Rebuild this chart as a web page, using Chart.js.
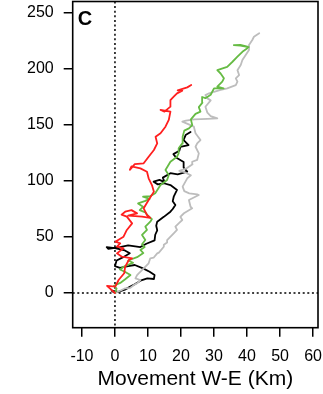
<!DOCTYPE html>
<html>
<head>
<meta charset="utf-8">
<script src="https://cdn.jsdelivr.net/npm/chart.js@4.4.1/dist/chart.umd.min.js"></script>
<style>
  html, body { margin: 0; padding: 0; background: #fff; }
  canvas { display: block; }
</style>
</head>
<body>
<canvas id="chart" width="323" height="394"></canvas>
<script>
// Axis tick values
const X_TICKS = [-10, 0, 10, 20, 30, 40, 50, 60];
const Y_TICKS = [0, 50, 100, 150, 200, 250];

// Cumulative movement tracks (km): W-E on x, S-N on y
const grayX = [0, 1.6, 3.1, 4.6, 5.7, 6.7, 7.7, 6.2, 6.7, 7.2, 8.2, 8.7, 10.2, 10.7, 11.7, 12.8, 13.3, 14.8, 14.8, 15.8, 15.8, 17.8, 18.8, 18.3, 19.3, 20.4, 19.8, 20.9, 23.4, 22.9, 22.4, 25.4, 24.9, 22.5, 21.0, 20.5, 21.9, 23.0, 21.0, 19.5, 21.5, 23.5, 23.4, 24.9, 25.4, 24.4, 24.9, 25.9, 24.4, 23.9, 22.0, 20.4, 21.5, 24.0, 28.0, 31.0, 29.0, 28.0, 27.4, 29.0, 28.0, 27.4, 28.5, 30.0, 32.0, 34.0, 36.6, 37.1, 36.6, 37.6, 37.1, 38.1, 38.6, 39.6, 40.6, 40.6, 41.6, 42.1, 43.7];
const grayY = [0, 2.0, 4.2, 4.5, 7.0, 8.7, 11.6, 13.1, 16.0, 17.6, 20.5, 22.0, 26.5, 31.0, 31.5, 35.4, 36.0, 41.3, 43.0, 45.0, 47.3, 53.3, 56.3, 59.2, 62.2, 65.2, 68.0, 71.2, 75.6, 77.0, 83.0, 87.5, 88.0, 89.0, 91.0, 95.0, 102.4, 105.0, 108.0, 109.0, 111.0, 115.0, 117.2, 118.8, 124.7, 130.6, 133.6, 136.6, 142.6, 148.5, 151.0, 153.0, 154.0, 155.0, 155.5, 156.0, 158.0, 161.0, 166.3, 172.0, 173.8, 176.8, 178.3, 179.7, 181.3, 182.8, 185.7, 188.7, 191.7, 194.6, 199.0, 203.6, 208.0, 212.5, 217.0, 221.4, 225.9, 228.8, 231.9];

const greenX = [0, 0.5, -0.3, 1.6, 3.0, 4.7, 3.0, 1.5, 3.0, 5.5, 4.0, 6.7, 8.6, 7.7, 9.0, 8.2, 9.2, 8.2, 9.7, 9.2, 10.7, 11.2, 10.0, 9.2, 7.5, 8.5, 7.0, 9.0, 10.5, 8.5, 10.7, 12.2, 13.8, 15.8, 16.3, 15.3, 16.8, 18.8, 19.3, 19.3, 20.4, 20.5, 21.0, 22.4, 23.4, 23.0, 24.4, 25.9, 25.4, 26.5, 26.4, 27.4, 29.0, 30.0, 32.9, 31.0, 32.5, 33.0, 32.0, 31.0, 34.0, 35.6, 37.1, 38.6, 40.1, 40.1, 38.0, 36.0, 38.0, 40.5];
const greenY = [0, 4.0, 6.5, 9.0, 12.0, 16.0, 19.0, 21.0, 24.0, 27.0, 29.0, 32.0, 35.7, 38.4, 41.0, 43.5, 47.3, 51.8, 56.3, 59.2, 63.7, 66.0, 69.0, 72.0, 74.0, 77.0, 80.0, 82.0, 84.0, 86.0, 86.5, 89.0, 96.4, 100.9, 105.4, 109.8, 117.2, 121.7, 124.7, 129.2, 133.6, 139.6, 145.0, 147.0, 150.0, 155.0, 160.0, 162.0, 166.0, 170.0, 175.0, 174.0, 177.0, 182.8, 182.8, 184.2, 188.7, 191.7, 196.0, 199.0, 202.0, 206.5, 211.0, 215.4, 218.5, 220.0, 221.5, 221.4, 221.0, 219.5];

const blackX = [0, -1.0, 1.0, 3.0, 5.5, 7.7, 9.8, 11.8, 12.0, 10.5, 8.5, 6.0, 4.0, 1.5, 0, 0.5, 2.5, 4.5, 3.0, 0, -2.5, -2.0, 1.5, 4.0, 7.7, 9.5, 12.0, 12.2, 12.8, 12.5, 12.8, 14.8, 16.8, 17.5, 18.3, 17.5, 17.8, 18.8, 16.8, 14.8, 13.0, 11.7, 13.5, 15.0, 14.5, 16.8, 19.0, 21.9, 20.8, 20.8, 18.5, 17.7, 19.5, 19.8, 22.3, 20.8, 21.4, 22.9];
const blackY = [0, 2.0, 1.0, 3.0, 7.0, 11.0, 13.0, 12.5, 16.0, 19.0, 22.0, 25.0, 24.0, 22.5, 24.0, 29.0, 32.0, 35.5, 38.0, 40.0, 41.0, 39.5, 41.0, 42.5, 41.0, 44.0, 47.0, 52.0, 56.0, 60.0, 63.7, 68.0, 72.6, 75.0, 78.6, 82.0, 86.0, 92.0, 96.4, 98.0, 97.0, 99.4, 101.0, 99.0, 103.0, 107.0, 106.0, 108.3, 112.0, 117.0, 121.0, 124.0, 127.0, 130.4, 132.1, 136.6, 141.0, 143.8];

const redX = [0, -2.4, 0.1, 1.1, 2.8, 3.1, 4.2, 5.2, 2.1, 0.6, 2.6, 0.6, 1.6, 0.1, 2.6, 3.6, 5.2, 3.6, 2.0, 3.1, 5.0, 6.7, 4.0, 8.2, 10.7, 9.7, 8.7, 10.2, 11.8, 11.2, 10.2, 9.7, 7.7, 5.0, 4.5, 6.0, 8.7, 10.2, 11.8, 12.8, 12.3, 13.8, 15.3, 16.3, 16.8, 13.8, 15.0, 16.8, 16.8, 17.8, 18.8, 20.4, 19.0, 21.9, 23.1];
const redY = [0, 6.3, 5.7, 11.6, 17.6, 23.5, 29.5, 31.0, 32.4, 35.4, 39.9, 41.4, 44.3, 45.8, 50.3, 56.3, 62.2, 68.2, 70.0, 72.6, 74.0, 71.1, 69.0, 68.2, 67.0, 69.6, 75.6, 83.0, 90.5, 96.4, 102.4, 108.3, 111.3, 113.0, 110.0, 115.0, 115.8, 121.7, 127.7, 133.6, 139.6, 142.6, 148.5, 154.5, 161.9, 163.4, 162.0, 166.4, 172.3, 175.3, 178.3, 180.7, 181.0, 183.6, 185.7];

const FONT = '"Liberation Sans", Arial, Helvetica, sans-serif';
const toPoints = (xs, ys) => xs.map((x, i) => ({ x: x, y: ys[i] }));

function track(label, xs, ys, color) {
  return {
    label: label,
    data: toPoints(xs, ys),
    showLine: true,
    borderColor: color,
    backgroundColor: color,
    borderWidth: 1.8,
    pointRadius: 0,
    tension: 0,
    borderJoinStyle: 'round',
    borderCapStyle: 'round'
  };
}

// Reference lines at x = 0 and y = 0, the panel letter and the box frame
const panelDecor = {
  id: 'panelDecor',
  beforeDatasetsDraw(chart) {
    const { ctx, chartArea: a, scales: { x, y } } = chart;
    const x0 = x.getPixelForValue(0);
    const y0 = y.getPixelForValue(0);
    ctx.save();
    ctx.strokeStyle = '#000';
    ctx.lineWidth = 1.5;
    ctx.setLineDash([2, 2.6]);
    ctx.beginPath();
    ctx.moveTo(x0, a.top);
    ctx.lineTo(x0, a.bottom);
    ctx.moveTo(a.left, y0);
    ctx.lineTo(a.right, y0);
    ctx.stroke();
    ctx.restore();
  },
  afterDatasetsDraw(chart) {
    const { ctx, chartArea: a } = chart;
    ctx.save();
    ctx.strokeStyle = '#000';
    ctx.lineWidth = 1.6;
    ctx.strokeRect(a.left, a.top, a.right - a.left, a.bottom - a.top);
    ctx.fillStyle = '#000';
    ctx.font = 'bold 20px ' + FONT;
    ctx.textAlign = 'left';
    ctx.textBaseline = 'alphabetic';
    ctx.fillText('C', a.left + 5, a.top + 23.5);
    ctx.restore();
  }
};

const gridStyle = {
  display: true,
  drawOnChartArea: false,
  drawTicks: true,
  tickLength: 9,
  color: '#000',
  lineWidth: 1.5
};

new Chart(document.getElementById('chart'), {
  type: 'scatter',
  data: {
    datasets: [
      track('Red', redX, redY, '#ff1f1f'),
      track('Green', greenX, greenY, '#66bb44'),
      track('Gray', grayX, grayY, '#bdbdbd'),
      track('Black', blackX, blackY, '#000000')
    ]
  },
  options: {
    responsive: false,
    animation: false,
    devicePixelRatio: 1,
    layout: { padding: { top: 1.5, right: 5, left: 0, bottom: 0 } },
    plugins: {
      legend: { display: false },
      tooltip: { enabled: false }
    },
    scales: {
      x: {
        type: 'linear',
        min: -12.8,
        max: 61.5,
        afterBuildTicks: s => { s.ticks = X_TICKS.map(v => ({ value: v })); },
        afterFit: s => { s.height = 66.3; s.paddingLeft = 0; s.paddingRight = 0; },
        grid: gridStyle,
        border: { display: false },
        ticks: { color: '#000', font: { size: 16, family: FONT }, padding: 10, maxRotation: 0, autoSkip: false },
        title: { display: true, text: 'Movement W-E (Km)', color: '#000', font: { size: 21, family: FONT }, padding: { top: 0, bottom: 2 } }
      },
      y: {
        type: 'linear',
        min: -31,
        max: 260.3,
        afterBuildTicks: s => { s.ticks = Y_TICKS.map(v => ({ value: v })); },
        afterFit: s => { s.width = 72.7; s.paddingTop = 0; s.paddingBottom = 0; },
        grid: gridStyle,
        border: { display: false },
        ticks: { color: '#000', font: { size: 16, family: FONT }, padding: 10, autoSkip: false }
      }
    }
  },
  plugins: [panelDecor]
});
</script>
</body>
</html>
